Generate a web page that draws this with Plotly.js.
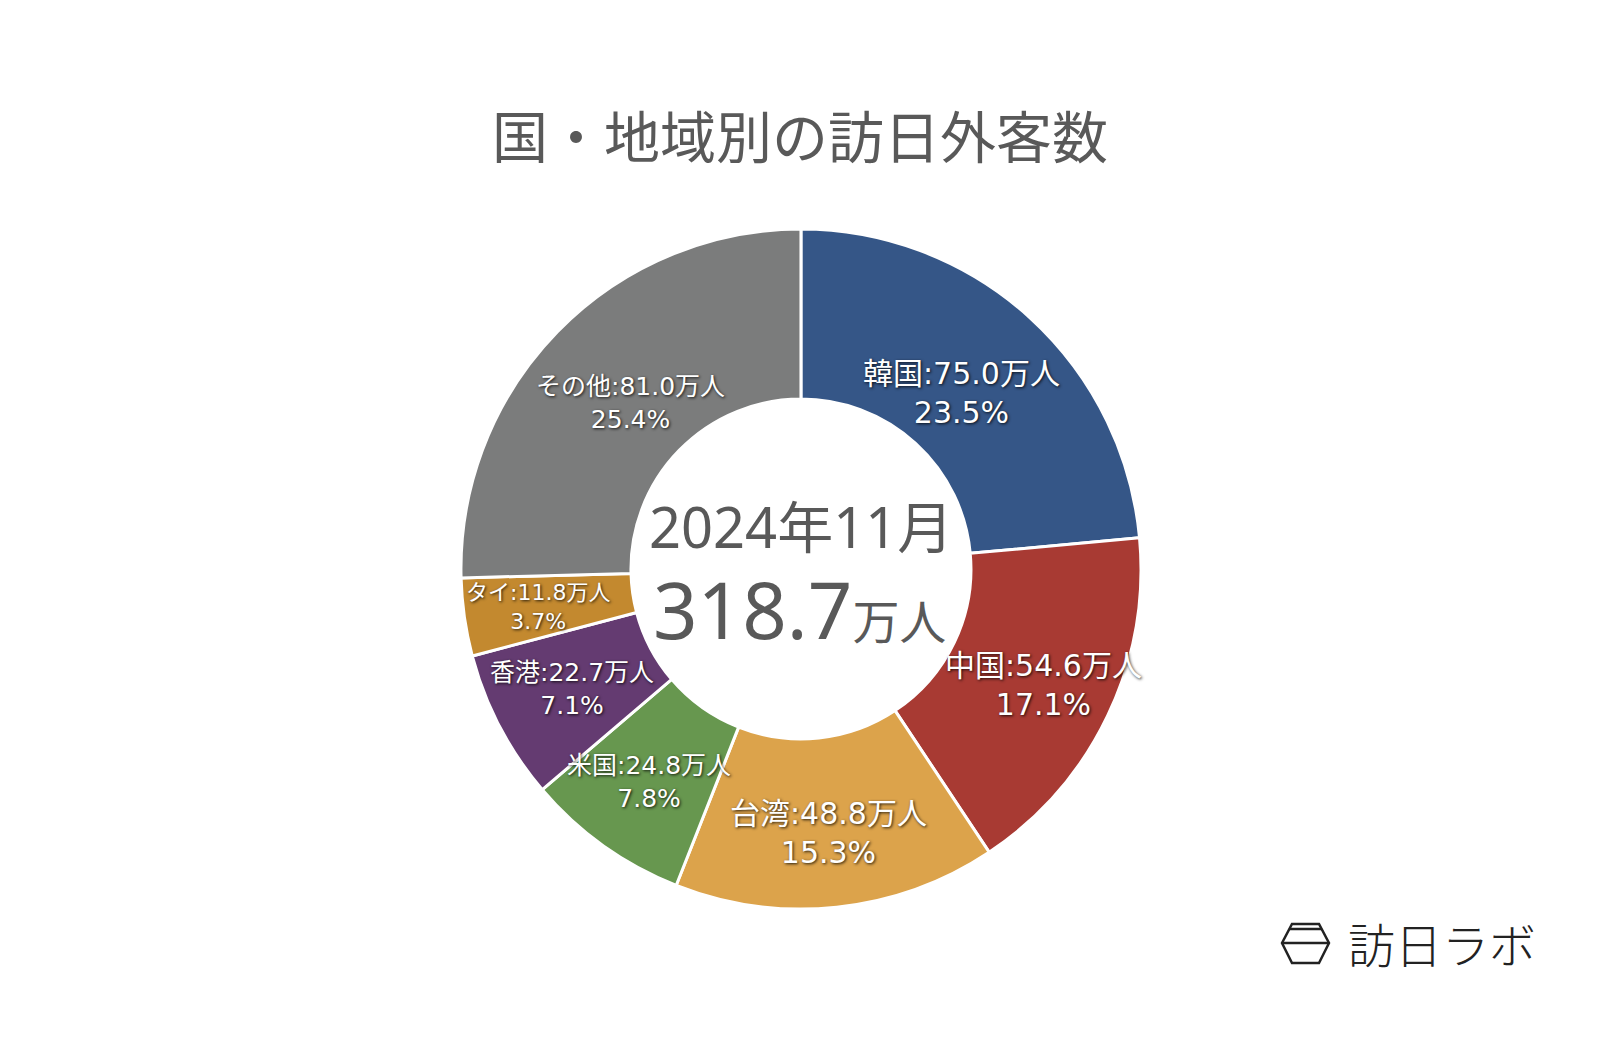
<!DOCTYPE html>
<html>
<head>
<meta charset="utf-8">
<script src="https://cdn.plot.ly/plotly-3.0.1.min.js"></script>
<style>html,body{margin:0;padding:0;background:#fff;}#chart{width:1600px;height:1048px;}</style>
</head>
<body>
<div id="chart"></div>
<script>
const countries = ["韓国", "中国", "台湾", "米国", "香港", "タイ", "その他"];
const visitors = [75.0, 54.6, 48.8, 24.8, 22.7, 11.8, 81.0];
const shares = ["23.5%", "17.1%", "15.3%", "7.8%", "7.1%", "3.7%", "25.4%"];
const colors = ["#355687", "#a83a33", "#dca34b", "#67974f", "#643b71", "#c3892f", "#7b7c7c"];
const labelSizes = [30, 30, 30, 25, 25, 22, 25];
const labelRadius = [0.70, 0.79, 0.78, 0.77, 0.76, 0.78, 0.70];
const periodLabel = "2024年11月";
const totalLabel = "318.7";
const unit = "万人";

const W = 1600, H = 1048;
const domX = [0.2881, 0.7131], domY = [0.1326, 0.7815];
const labelFont = "'DejaVu Sans', 'Noto Sans CJK JP', sans-serif";
const centerFont = "'Noto Sans', 'Noto Sans CJK JP', sans-serif";
const cjkFont = "'Noto Sans CJK JP', sans-serif";
const shadow = "1px 1px 3px rgba(0,0,0,0.85)";

const trace = {
  type: "pie",
  labels: countries,
  values: visitors,
  textinfo: "none",
  hoverinfo: "label+value+percent",
  sort: false,
  direction: "clockwise",
  rotation: 0,
  hole: 0.5,
  marker: {colors: colors, line: {color: "#ffffff", width: 3}},
  domain: {x: domX, y: domY},
  showlegend: false
};

// slice labels placed along each slice's mid-angle, computed from the data
const total = visitors.reduce((a, b) => a + b, 0);
const cx = (domX[0] + domX[1]) / 2 * W;
const cy = (1 - (domY[0] + domY[1]) / 2) * H;
const R = Math.min((domX[1] - domX[0]) * W, (domY[1] - domY[0]) * H) / 2;
const annotations = [];
let cum = 0;
visitors.forEach((v, i) => {
  const th = 2 * Math.PI * (cum + v / 2) / total;
  cum += v;
  const px = cx + labelRadius[i] * R * Math.sin(th);
  const py = cy - labelRadius[i] * R * Math.cos(th);
  annotations.push({x: px / W, y: 1 - py / H, xref: "paper", yref: "paper", showarrow: false,
    xanchor: "center", yanchor: "middle", align: "center", borderpad: 0,
    text: countries[i] + ":" + v.toFixed(1) + unit + "<br>" + shares[i],
    font: {family: labelFont, size: labelSizes[i], color: "#ffffff", shadow: shadow}});
});

annotations.push(
  {text: periodLabel, x: 0.5006, y: 0.498, xref: "paper", yref: "paper", showarrow: false, xanchor: "center", yanchor: "middle",
   font: {family: centerFont, size: 56, color: "#595959"}},
  {text: totalLabel + "<span style='font-size:47px'>" + unit + "</span>", x: 0.4995, y: 0.419, xref: "paper", yref: "paper", showarrow: false,
   xanchor: "center", yanchor: "middle", font: {family: centerFont, size: 78, color: "#595959"}},
  {text: "訪日ラボ", x: 0.961, y: 0.101, xref: "paper", yref: "paper", xanchor: "right", yanchor: "middle", showarrow: false,
   font: {family: cjkFont, size: 47, color: "#222222", weight: 300}}
);

const lw = 2.5, lc = "#222222";
const layout = {
  width: W, height: H,
  margin: {l: 0, r: 0, t: 0, b: 0},
  paper_bgcolor: "#ffffff",
  title: {text: "国・地域別の訪日外客数", font: {family: cjkFont, size: 56, color: "#595959"}, x: 0.5, xanchor: "center", y: 0.868, yanchor: "middle"},
  annotations: annotations,
  shapes: [
    {type: "path", xref: "paper", yref: "paper",
     path: "M 0.80125,0.10019 L 0.8075,0.11832 L 0.824375,0.11832 L 0.830625,0.10019 L 0.824375,0.08111 L 0.8075,0.08111 Z",
     line: {color: lc, width: lw}, fillcolor: "rgba(0,0,0,0)"},
    {type: "line", xref: "paper", yref: "paper", x0: 0.8059, x1: 0.8260, y0: 0.11355, y1: 0.11355, line: {color: lc, width: lw}},
    {type: "line", xref: "paper", yref: "paper", x0: 0.80125, x1: 0.830625, y0: 0.10019, y1: 0.10019, line: {color: lc, width: lw}}
  ]
};

Plotly.newPlot("chart", [trace], layout, {displayModeBar: false, staticPlot: true});
</script>
</body>
</html>
